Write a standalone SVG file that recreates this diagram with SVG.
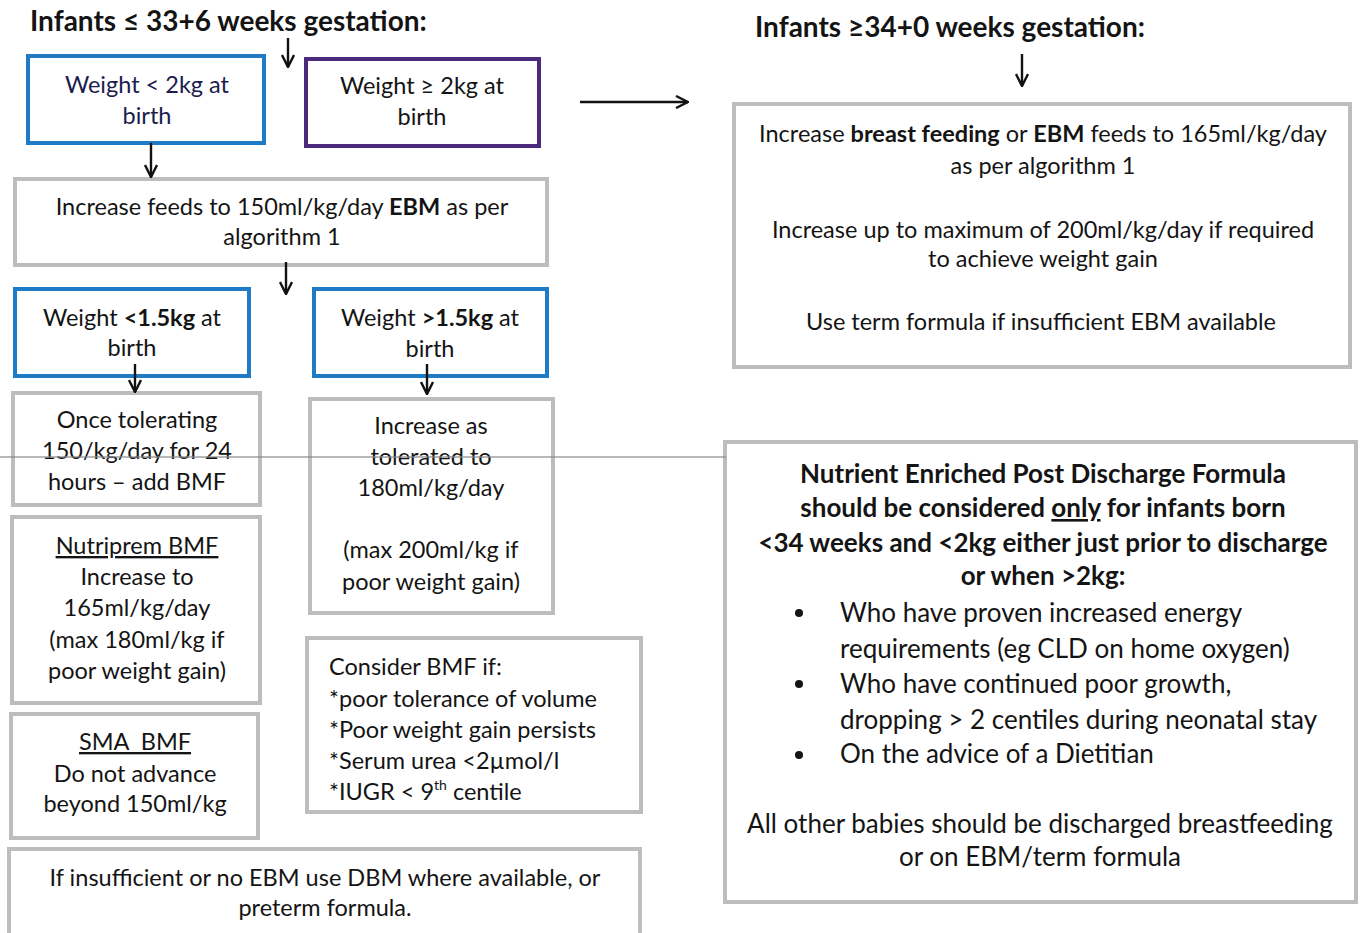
<svg xmlns="http://www.w3.org/2000/svg" width="1362" height="933" viewBox="0 0 1362 933">
<defs>
<marker id="ah" viewBox="0 0 14 14" refX="13" refY="7" markerWidth="14" markerHeight="14" markerUnits="userSpaceOnUse" orient="auto">
<path d="M1,1 L13,7 L1,13" fill="none" stroke="#111" stroke-width="2.4"/>
</marker>
</defs>
<style>
text{font-family:Lato,"Open Sans","Liberation Sans",sans-serif;fill:#141414;font-size:23.5px}
.c{text-anchor:middle}
.t{font-size:28px;font-weight:bold}
.b{font-weight:bold}
.n{fill:#1c1c4e}
.m{font-size:26px}
.gb{fill:#fff;stroke:#bdbdbd;stroke-width:4}
.bl{fill:#fff;stroke:#1f7bc6;stroke-width:4}
.pu{fill:#fff;stroke:#4b2a7c;stroke-width:4}
.cn{stroke:#111;stroke-width:2.4;fill:none;marker-end:url(#ah)}
.u{text-decoration:underline}
</style>
<rect width="1362" height="933" fill="#fff"/>

<g id="title-left"><text class="t" x="30" y="31">Infants ≤ 33+6 weeks gestation:</text></g>
<g id="title-right"><text class="t" x="755" y="37">Infants ≥34+0 weeks gestation:</text></g>

<g id="w-lt-2kg"><rect class="bl" x="28" y="56" width="236" height="87"/>
<text class="c n" x="147" y="93">Weight &lt; 2kg at</text><text class="c n" x="147" y="124">birth</text></g>

<g id="w-ge-2kg"><rect class="pu" x="306" y="59" width="233" height="87"/>
<text class="c" x="422" y="94">Weight ≥ 2kg at</text><text class="c" x="422" y="125">birth</text></g>

<g id="increase-150"><rect class="gb" x="15" y="179" width="532" height="86"/>
<text class="c" x="282" y="215">Increase feeds to 150ml/kg/day <tspan class="b">EBM</tspan> as per</text><text class="c" x="282" y="245">algorithm 1</text></g>

<g id="w-lt-15"><rect class="bl" x="15" y="289" width="234" height="87"/>
<text class="c" x="132" y="326">Weight <tspan class="b">&lt;1.5kg</tspan> at</text><text class="c" x="132" y="356">birth</text></g>

<g id="w-gt-15"><rect class="bl" x="314" y="289" width="233" height="87"/>
<text class="c" x="430" y="326">Weight <tspan class="b">&gt;1.5kg</tspan> at</text><text class="c" x="430" y="357">birth</text></g>

<g id="once-tolerating"><rect class="gb" x="13" y="393" width="247" height="112"/>
<text class="c" x="137" y="428">Once tolerating</text><text class="c" x="137" y="459">150/kg/day for 24</text><text class="c" x="137" y="490">hours – add BMF</text></g>

<g id="increase-180"><rect class="gb" x="310" y="399" width="243" height="214"/>
<text class="c" x="431" y="434">Increase as</text><text class="c" x="431" y="465">tolerated to</text><text class="c" x="431" y="496">180ml/kg/day</text>
<text class="c" x="431" y="558">(max 200ml/kg if</text><text class="c" x="431" y="590">poor weight gain)</text></g>

<g id="nutriprem"><rect class="gb" x="12" y="517" width="248" height="186"/>
<text class="c u" x="137" y="554">Nutriprem BMF</text><text class="c" x="137" y="585">Increase to</text><text class="c" x="137" y="616">165ml/kg/day</text>
<text class="c" x="137" y="648">(max 180ml/kg if</text><text class="c" x="137" y="679">poor weight gain)</text></g>

<g id="sma"><rect class="gb" x="11" y="714" width="247" height="124"/>
<text class="c u" x="135" y="750" xml:space="preserve">SMA  BMF</text><text class="c" x="135" y="782">Do not advance</text><text class="c" x="135" y="812">beyond 150ml/kg</text></g>

<g id="consider-bmf"><rect class="gb" x="307" y="638" width="334" height="174"/>
<text x="329" y="675">Consider BMF if:</text><text x="329" y="707">*poor tolerance of volume</text><text x="329" y="738">*Poor weight gain persists</text>
<text x="329" y="769">*Serum urea &lt;2µmol/l</text><text x="329" y="800">*IUGR &lt; 9<tspan dy="-10" font-size="14">th</tspan><tspan dy="10"> centile</tspan></text></g>

<g id="insufficient"><rect class="gb" x="9" y="849" width="631" height="90"/>
<text class="c" x="325" y="886">If insufficient or no EBM use DBM where available, or</text><text class="c" x="325" y="916">preterm formula.</text></g>

<g id="term-box"><rect class="gb" x="734" y="104" width="616" height="263"/>
<text class="c" x="1043" y="142">Increase <tspan class="b">breast feeding</tspan> or <tspan class="b">EBM</tspan> feeds to 165ml/kg/day</text>
<text class="c" x="1043" y="174">as per algorithm 1</text>
<text class="c" x="1043" y="238">Increase up to maximum of 200ml/kg/day if required</text>
<text class="c" x="1043" y="267">to achieve weight gain</text>
<text class="c" x="1041" y="330">Use term formula if insufficient EBM available</text></g>

<g id="post-discharge"><rect class="gb" x="725" y="442" width="631" height="460"/>
<text class="c b m" x="1043" y="483">Nutrient Enriched Post Discharge Formula</text>
<text class="c b m" x="1043" y="517">should be considered <tspan class="u">only</tspan> for infants born</text>
<text class="c b m" x="1043" y="552">&lt;34 weeks and &lt;2kg either just prior to discharge</text>
<text class="c b m" x="1043" y="585">or when &gt;2kg:</text>
<circle cx="799" cy="613" r="4" fill="#141414"/><circle cx="799" cy="684" r="4" fill="#141414"/><circle cx="799" cy="755" r="4" fill="#141414"/>
<text class="m" x="840" y="622">Who have proven increased energy</text>
<text class="m" x="840" y="658">requirements (eg CLD on home oxygen)</text>
<text class="m" x="840" y="693">Who have continued poor growth,</text>
<text class="m" x="840" y="729">dropping &gt; 2 centiles during neonatal stay</text>
<text class="m" x="840" y="763">On the advice of a Dietitian</text>
<text class="c m" x="1040" y="833">All other babies should be discharged breastfeeding</text>
<text class="c m" x="1040" y="866">or on EBM/term formula</text></g>

<g id="connectors">
<line class="cn" x1="288" y1="38" x2="288" y2="67"/>
<line class="cn" x1="151" y1="143" x2="151" y2="177"/>
<line class="cn" x1="286" y1="262" x2="286" y2="294"/>
<line class="cn" x1="135" y1="364" x2="135" y2="392"/>
<line class="cn" x1="427" y1="364" x2="427" y2="394"/>
<line class="cn" x1="1022" y1="54" x2="1022" y2="86"/>
<line class="cn" x1="580" y1="102" x2="688" y2="102"/>
</g>
<line x1="0" y1="457" x2="726" y2="457" stroke="#8a8a8a" stroke-width="1.5" opacity="0.8"/>
</svg>
